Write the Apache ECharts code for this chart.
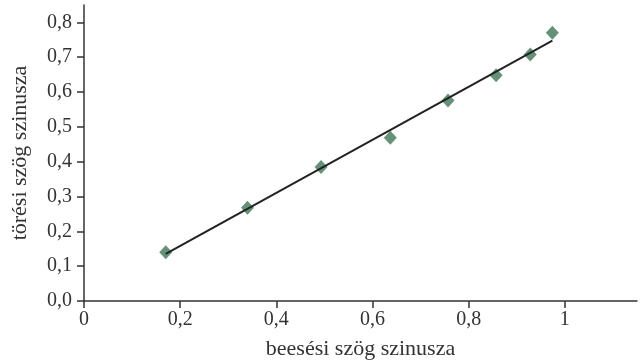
<!DOCTYPE html>
<html><head><meta charset="utf-8">
<script src="https://cdn.jsdelivr.net/npm/echarts@6/dist/echarts.min.js"></script>
<style>html,body{margin:0;padding:0;background:#fff}#c{width:644px;height:362px}</style>
</head><body><div id="c"></div>
<script>
const sinIncidence = [0.170, 0.340, 0.493, 0.637, 0.757, 0.857, 0.928, 0.974];
const sinRefraction = [0.140, 0.268, 0.385, 0.469, 0.576, 0.648, 0.708, 0.770];
const trendX = [0.170, 0.974];
const trendY = [0.135, 0.748];
const xTicks = [0, 0.2, 0.4, 0.6, 0.8, 1];
const yTicks = [0, 0.1, 0.2, 0.3, 0.4, 0.5, 0.6, 0.7, 0.8];

const font = 'Liberation Serif';
const chart = echarts.init(document.getElementById('c'));
chart.setOption({
  animation: false,
  grid: {left: 84, right: 7, top: 5, bottom: 61, containLabel: false, outerBoundsMode: 'none'},
  xAxis: {
    type: 'value', min: 0, max: 1.15, interval: 0.2,
    name: 'beesési szög szinusza', nameLocation: 'middle', nameGap: 37,
    nameTextStyle: {fontFamily: font, fontSize: 22, color: '#333'},
    splitLine: {show: false},
    axisLine: {lineStyle: {color: '#333', width: 1.5}},
    axisTick: {length: 7, lineStyle: {color: '#333', width: 1.5}},
    axisLabel: {fontFamily: font, fontSize: 20, color: '#333', margin: 9,
      showMaxLabel: false,
      formatter: v => xTicks.some(t => Math.abs(t - v) < 1e-9) ? String(+v.toFixed(1)).replace('.', ',') : ''}
  },
  yAxis: {
    type: 'value', min: 0, max: 0.85, interval: 0.1,
    name: 'törési szög szinusza', nameLocation: 'middle', nameGap: 53,
    nameTextStyle: {fontFamily: font, fontSize: 22, color: '#333'},
    splitLine: {show: false},
    axisLine: {show: true, lineStyle: {color: '#333', width: 1.5}},
    axisTick: {show: true, length: 7, lineStyle: {color: '#333', width: 1.5}},
    axisLabel: {fontFamily: font, fontSize: 20, color: '#333', margin: 12,
      showMaxLabel: false,
      formatter: v => yTicks.some(t => Math.abs(t - v) < 1e-9) ? v.toFixed(1).replace('.', ',') : ''}
  },
  series: [
    {type: 'line', data: trendX.map((x, i) => [x, trendY[i]]), symbol: 'none',
     lineStyle: {color: '#222', width: 2}, z: 3},
    {type: 'scatter', data: sinIncidence.map((x, i) => [x, sinRefraction[i]]),
     symbol: 'diamond', symbolSize: [13, 14], itemStyle: {color: '#3e7656'}, z: 2}
  ]
});
</script></body></html>
